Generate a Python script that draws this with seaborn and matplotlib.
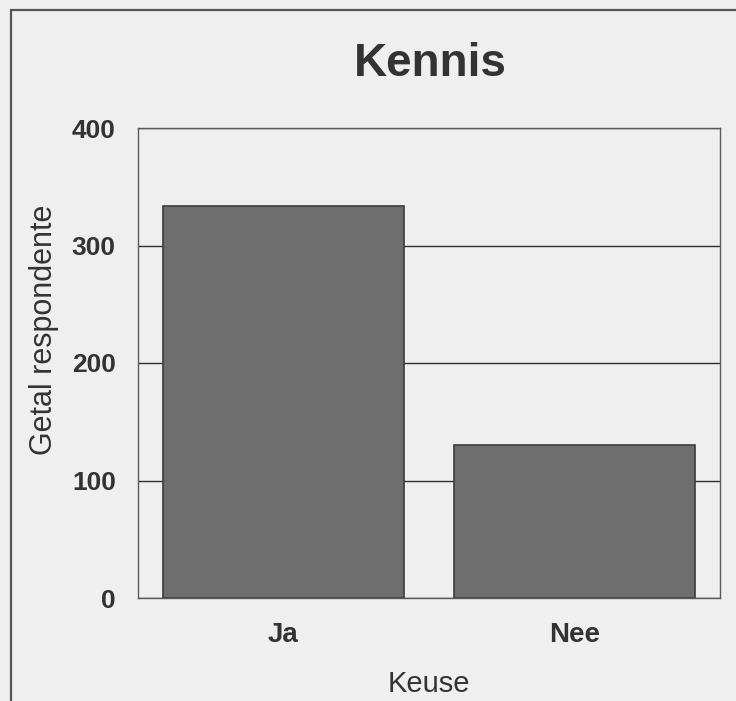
import matplotlib
matplotlib.use("Agg")
import matplotlib.pyplot as plt
from matplotlib.patches import Rectangle
import seaborn as sns
import pandas as pd

# Survey answers: number of respondents per choice
categories = ["Ja", "Nee"]
counts = [334, 130]
y_ticks = [0, 100, 200, 300, 400]

title = "Kennis"
x_label = "Keuse"
y_label = "Getal respondente"

sns.set_theme(style="white")
plt.rcParams["font.family"] = ["Liberation Sans", "DejaVu Sans"]

bg = "#efefef"
ink = "#333333"

fig = plt.figure(figsize=(7.36, 7.01), dpi=100, facecolor=bg)
ax = fig.add_axes([138 / 736, 1 - 598 / 701, (720 - 138) / 736, (598 - 128) / 701])
ax.set_facecolor(bg)

df = pd.DataFrame({"Keuse": categories, "Getal": counts})
sns.barplot(data=df, x="Keuse", y="Getal", ax=ax, color="#6e6e6e",
            edgecolor="#3c3c3c", linewidth=1.2, width=0.826, saturation=1)

ax.set_ylim(0, 400)
ax.set_yticks(y_ticks)
ax.set_yticklabels([str(v) for v in y_ticks], fontsize=19, fontweight="bold", color=ink)
ax.set_xticks(range(len(categories)))
ax.set_xticklabels(categories, fontsize=20, fontweight="bold", color=ink)
ax.tick_params(axis="y", length=0, pad=16)
ax.tick_params(axis="x", length=0, pad=17)

ax.yaxis.grid(True, color="#2e2e2e", linewidth=1.0)
ax.xaxis.grid(False)
ax.set_axisbelow(True)

for s in ax.spines.values():
    s.set_visible(True)
    s.set_color("#5a5a5a")
    s.set_linewidth(1.0)

ax.set_xlabel(x_label, fontsize=21, color=ink, labelpad=16)
ax.set_ylabel(y_label, fontsize=22, color=ink)
ax.yaxis.set_label_coords(-0.136, 0.57)

fig.text(430 / 736, 1 - 64 / 701, title, fontsize=33, fontweight="bold",
         color=ink, ha="center", va="center")

# Outer chart frame, open towards the right and bottom edges
fig.patches.append(Rectangle((11 / 736, -0.05), 1.0, 1 - 10 / 701 + 0.05,
                             transform=fig.transFigure, fill=False,
                             edgecolor="#555555", linewidth=1.6, clip_on=False))

fig.savefig("out.png", dpi=100, facecolor=bg)
